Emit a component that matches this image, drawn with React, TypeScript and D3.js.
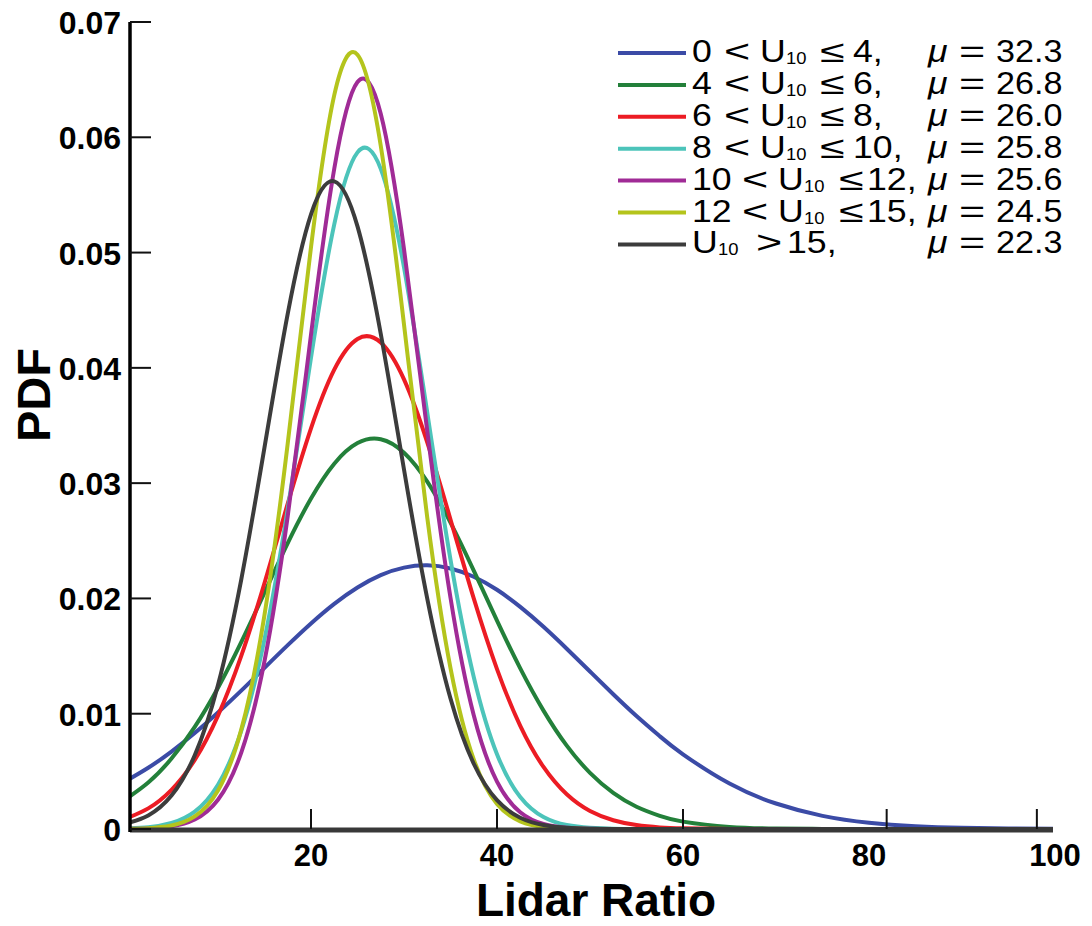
import React from "react";
import * as d3 from "d3";

// Lidar ratio sample positions (x)
const lidarRatio = [0, 2.5, 5, 7.5, 10, 12.5, 15, 17.5, 20, 22.5, 25, 27.5, 30, 32.5, 35, 37.5, 40, 42.5, 45, 47.5, 50, 52.5, 55, 57.5, 60, 65, 70, 75, 80, 85, 90, 95, 100];

// PDF values, one array per wind-speed class
const pdfU0to4 = [0.00412, 0.00531, 0.00672, 0.00832, 0.0101, 0.012, 0.01398, 0.01595, 0.01783, 0.01953, 0.02095, 0.02202, 0.02267, 0.02287, 0.0226, 0.02188, 0.02075, 0.01927, 0.01754, 0.01564, 0.01366, 0.01169, 0.0098, 0.00805, 0.00648, 0.00394, 0.00221, 0.00114, 0.00054, 0.00024, 0.0001, 0.00004, 0.00001];
const pdfU4to6 = [0.00255, 0.00403, 0.00611, 0.00885, 0.01225, 0.01621, 0.0205, 0.0248, 0.02867, 0.03169, 0.03348, 0.03381, 0.03264, 0.03013, 0.02658, 0.02242, 0.01808, 0.01393, 0.01027, 0.00723, 0.00487, 0.00313, 0.00193, 0.00114, 0.00064, 0.00018, 0.00004, 0.00001, 0, 0, 0, 0, 0];
const pdfU6to8 = [0.00088, 0.00179, 0.0034, 0.00599, 0.00983, 0.01501, 0.02134, 0.02823, 0.03476, 0.03985, 0.04251, 0.0422, 0.039, 0.03354, 0.02685, 0.02, 0.01387, 0.00895, 0.00538, 0.00301, 0.00156, 0.00076, 0.00034, 0.00014, 0.00006, 0.00001, 0, 0, 0, 0, 0, 0, 0];
const pdfU8to10 = [0.00004, 0.00015, 0.00052, 0.00151, 0.00384, 0.00851, 0.01647, 0.02778, 0.04088, 0.05245, 0.05869, 0.05726, 0.04871, 0.03613, 0.02337, 0.01319, 0.00649, 0.00278, 0.00104, 0.00034, 0.0001, 0.00002, 0, 0, 0, 0, 0, 0, 0, 0, 0, 0, 0];
const pdfU10to12 = [0.00001, 0.00005, 0.00023, 0.00083, 0.00254, 0.00662, 0.01457, 0.02716, 0.04287, 0.05727, 0.06479, 0.06204, 0.0503, 0.03452, 0.02006, 0.00986, 0.00411, 0.00145, 0.00043, 0.00011, 0.00002, 0, 0, 0, 0, 0, 0, 0, 0, 0, 0, 0, 0];
const pdfU12to15 = [0.00001, 0.00007, 0.0003, 0.00109, 0.00334, 0.00862, 0.01857, 0.03347, 0.05047, 0.06366, 0.06716, 0.05927, 0.04376, 0.02701, 0.01395, 0.00603, 0.00218, 0.00066, 0.00017, 0.00004, 0, 0, 0, 0, 0, 0, 0, 0, 0, 0, 0, 0, 0];
const pdfU15up = [0.00045, 0.00118, 0.0029, 0.0064, 0.0125, 0.02164, 0.0331, 0.0447, 0.05332, 0.05618, 0.05227, 0.04296, 0.03118, 0.01999, 0.01132, 0.00566, 0.0025, 0.00098, 0.00034, 0.0001, 0.00003, 0, 0, 0, 0, 0, 0, 0, 0, 0, 0, 0, 0];

const seriesValues = [pdfU0to4, pdfU4to6, pdfU6to8, pdfU8to10, pdfU10to12, pdfU12to15, pdfU15up];
const seriesColors = ["#3b4ba6", "#23803a", "#ec1c24", "#4cc4ba", "#a02b96", "#b4c41c", "#3c3c3c"];
const legendLower = ["0", "4", "6", "8", "10", "12", ""];
const legendUpper = ["4", "6", "8", "10", "12", "15", "15"];
const legendMeans = ["32.3", "26.8", "26.0", "25.8", "25.6", "24.5", "22.3"];

const yTicks = [0, 0.01, 0.02, 0.03, 0.04, 0.05, 0.06, 0.07];
const xTickLabels = [20, 40, 60, 80, 100];
const xTickMarks = [20, 40, 60, 81.9, 98.05];

const FONT = "'Liberation Sans', Arial, Helvetica, sans-serif";

// horizontal offsets of legend pieces [lower, "<", "U", sub, rel, upper] (layout only)
const PIECES_SHORT = [0, 32, 68, 94, 128, 161];
const PIECES_LONG = [0, 50, 86, 112, 147, 175];
const PIECES_OPEN = [0, 0, 0, 26, 64, 95];

export default function App() {
  const W = 1092;
  const H = 926;
  const left = 130;
  const right = 1053;
  const x = d3.scaleLinear().domain([0, 100]).range([125, 1055]);
  const y = d3.scaleLinear().domain([0, 0.07]).range([829, 22]);
  const line = d3
    .line<[number, number]>()
    .x((d) => x(d[0]))
    .y((d) => y(d[1]))
    .curve(d3.curveNatural);

  const legendX0 = 618;
  const legendX1 = 686;
  const legendText = 692;
  const rowBase = (i: number) => 62 + 31.9 * i;

  const piece = (key: string, px: number, by: number, content: React.ReactNode, size = 31, sx = 1.15, extra: any = {}) => (
    <text key={key} transform={`translate(${px},${by}) scale(${sx},1)`} fontSize={size} fill="#000" {...extra}>
      {content}
    </text>
  );

  return (
    <svg width={W} height={H} style={{ position: "absolute", left: 0, top: 0, background: "#fff" }} fontFamily={FONT}>
      <defs>
        <clipPath id="plot">
          <rect x={left} y={0} width={right - left} height={y(0) + 1} />
        </clipPath>
      </defs>
      <rect width={W} height={H} fill="#fff" />

      {/* curves */}
      <g clipPath="url(#plot)">
        {seriesValues.map((vals, i) => (
          <path
            key={i}
            d={line(lidarRatio.map((lr, j) => [lr, vals[j]] as [number, number])) || ""}
            fill="none"
            stroke={seriesColors[i]}
            strokeWidth={4}
            strokeLinejoin="round"
          />
        ))}
      </g>

      {/* x axis */}
      <line x1={left} x2={right} y1={830} y2={830} stroke="#383838" strokeWidth={5} />
      {xTickMarks.map((t) => (
        <line key={t} x1={x(t)} x2={x(t)} y1={829} y2={809} stroke="#111" strokeWidth={2} />
      ))}
      {xTickLabels.map((t) => (
        <text key={t} x={x(t)} y={866} textAnchor="middle" fontSize={31} fontWeight="bold" fill="#000">
          {t}
        </text>
      ))}

      {/* y axis */}
      <line x1={left} x2={left} y1={y(0.07)} y2={832} stroke="#000" strokeWidth={3.5} />
      {yTicks.map((t) => (
        <g key={t}>
          <line x1={left} x2={151} y1={y(t)} y2={y(t)} stroke="#111" strokeWidth={2} />
          <text x={121} y={y(t) + 12} textAnchor="end" fontSize={32} fontWeight="bold" fill="#000">
            {t === 0 ? "0" : t.toFixed(2)}
          </text>
        </g>
      ))}

      {/* axis titles */}
      <text x={596} y={916} textAnchor="middle" fontSize={46} fontWeight="bold" fill="#000">
        Lidar Ratio
      </text>
      <text transform="translate(50,395) rotate(-90)" textAnchor="middle" fontSize={47} fontWeight="bold" fill="#000">
        PDF
      </text>

      {/* legend */}
      {legendMeans.map((m, i) => {
        const by = rowBase(i);
        const lower = legendLower[i];
        const offs = !lower ? PIECES_OPEN : lower.length > 1 ? PIECES_LONG : PIECES_SHORT;
        return (
          <g key={i}>
            <line x1={legendX0} x2={legendX1} y1={by - 9} y2={by - 9} stroke={seriesColors[i]} strokeWidth={4} />
            {lower ? piece("lo", legendText + offs[0], by, lower) : null}
            {lower ? piece("lt", legendText + offs[1], by, "<", 31, 1.45) : null}
            {piece("u", legendText + offs[2], by, "U")}
            {piece("sub", legendText + offs[3], by + 2, "10", 16)}
            {piece("rel", legendText + offs[4], by, lower ? "\u2264" : ">", 31, 1.45)}
            {piece("up", legendText + offs[5], by, `${legendUpper[i]},`)}
            {piece("mu", 928, by, "\u03bc", 31, 1.15, { fontStyle: "italic" })}
            {piece("eq", 959, by, "=", 31, 1.45)}
            {piece("val", 996, by, m, 31, 1.1)}
          </g>
        );
      })}
    </svg>
  );
}
